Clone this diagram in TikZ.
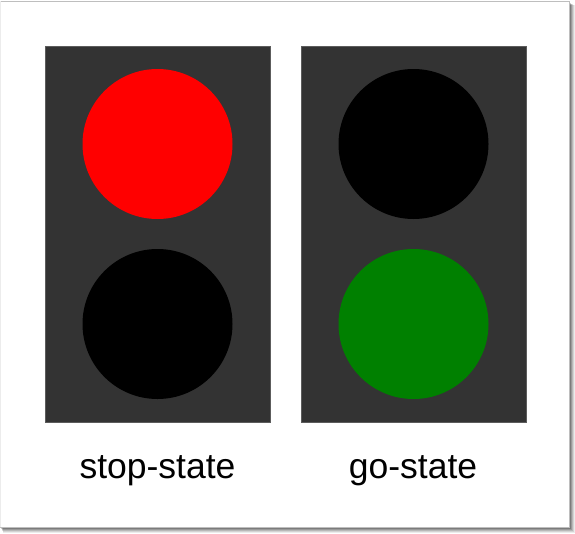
\documentclass[tikz,border=0pt]{standalone}
\usepackage{fontspec}
\setmainfont{Liberation Sans}
\definecolor{panelgray}{HTML}{333333}
\definecolor{lampred}{HTML}{FF0000}
\definecolor{lampgreen}{HTML}{008000}
\definecolor{cardedge}{HTML}{BEBEBE}
\begin{document}
\begin{tikzpicture}[x=1pt,y=-1pt,
  panel/.style={fill=panelgray,draw=panelgray!80!white,line width=0.6pt},
  lamp/.style={circle,minimum size=150pt,inner sep=0pt},
  caption/.style={anchor=base,font=\fontsize{35.5}{40}\selectfont,text=black}]
\useasboundingbox (0,0) rectangle (575,533);
% card shadow
\foreach \o/\a in {6/0.08,5/0.1,4/0.13,3/0.16,2/0.2,1/0.22}{
  \fill[black,opacity=\a] (0+\o/2,2+\o/2) rectangle (569+\o,527+\o);
}
\fill[white] (0,1) rectangle (569,527);
\draw[cardedge,line width=0.8pt] (0,1) -- (569,1) -- (569,527) -- (0,527);
\draw[cardedge!30!white,line width=0.6pt] (0.5,1) -- (0.5,527);
% panels
\draw[panel] (45,46) rectangle (270,422);
\draw[panel] (301,46) rectangle (526,422);
% lamps
\node[lamp,fill=lampred] (stoptop) at (157.5,144) {};
\node[lamp,fill=black] (stopbottom) at (157.5,324) {};
\node[lamp,fill=black] (gotop) at (413.5,144) {};
\node[lamp,fill=lampgreen] (gobottom) at (413.5,324) {};
% captions
\node[caption] (stoplabel) at (157.5,478) {stop-state};
\node[caption] (golabel) at (413,478) {go-state};
\end{tikzpicture}
\end{document}
